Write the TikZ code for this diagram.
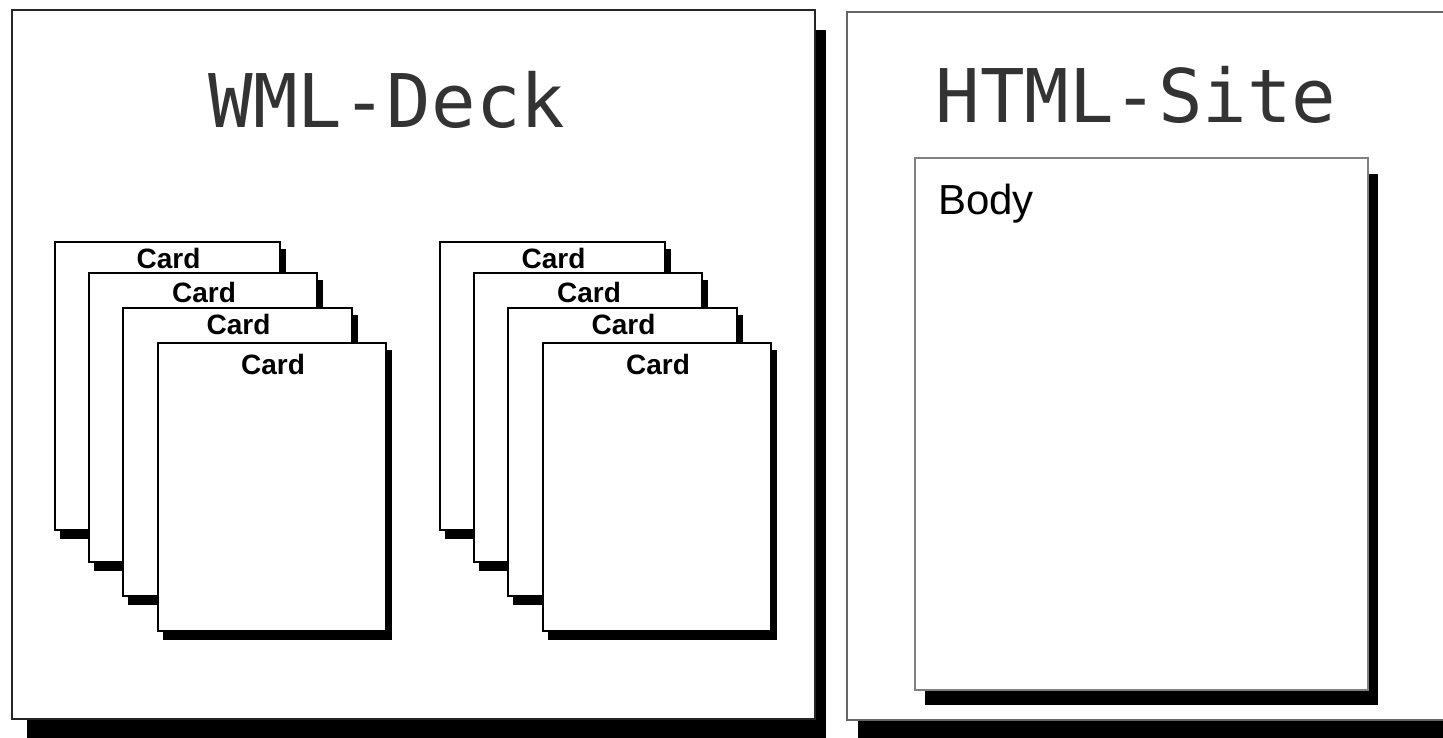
\documentclass[tikz,border=0pt]{standalone}
\usepackage{fontspec}
\setmainfont{Liberation Sans}
\newfontfamily\titlemono{DejaVu Sans Mono}
\tikzset{
  outerbox/.style={draw=black!85, line width=1.6pt, fill=white},
  sitebox/.style={draw=black!60, line width=1.6pt, fill=white},
  bodybox/.style={draw=black!50, line width=1.3pt, fill=white},
  cardbox/.style={draw=black, line width=1.4pt, fill=white},
  shadowfill/.style={fill=black},
  titletext/.style={font=\titlemono\fontsize{74}{80}\selectfont, text=black!80, anchor=base, inner sep=0pt},
  cardlabel/.style={font=\bfseries\fontsize{28}{30}\selectfont, anchor=base, inner sep=0pt},
  bodylabel/.style={font=\fontsize{42}{46}\selectfont, anchor=base west, inner sep=0pt}
}
\begin{document}
\begin{tikzpicture}[x=1pt,y=-1pt]
\useasboundingbox (0,0) rectangle (1443,737);
\clip (0,0) rectangle (1443,737);
\fill[white] (0,0) rectangle (1443,737);
% WML deck box
\fill[shadowfill] (27,30) rectangle (826,750);
\draw[outerbox] (12,10) rectangle (815,719);
\node[titletext] (wmltitle) at (387,127) {WML-Deck};
% card stacks
\foreach \dx/\s in {0/a,385/b} {
  \foreach \i/\l/\t/\r/\b/\bl in {1/55/242/280/530/268, 2/89/273/317/562/302, 3/123/308/352/596/334, 4/158/343/386/631/374} {
    \fill[shadowfill] (\l+\dx+5,\t+7) rectangle (\r+\dx+6,\b+9);
    \draw[cardbox] (\l+\dx,\t) rectangle (\r+\dx,\b);
    \node[cardlabel] (card\s\i) at ({(\l+\r)/2+\dx+1},\bl) {Card};
  }
}
% HTML site box
\fill[shadowfill] (858,30) rectangle (1470,750);
\draw[sitebox] (847,12) rectangle (1460,720);
\node[titletext] (htmltitle) at (1136,122) {HTML-Site};
% body
\fill[shadowfill] (925,174) rectangle (1378,705);
\draw[bodybox] (915,158) rectangle (1368,690);
\node[bodylabel] (bodytext) at (938,214) {Body};
\end{tikzpicture}
\end{document}
